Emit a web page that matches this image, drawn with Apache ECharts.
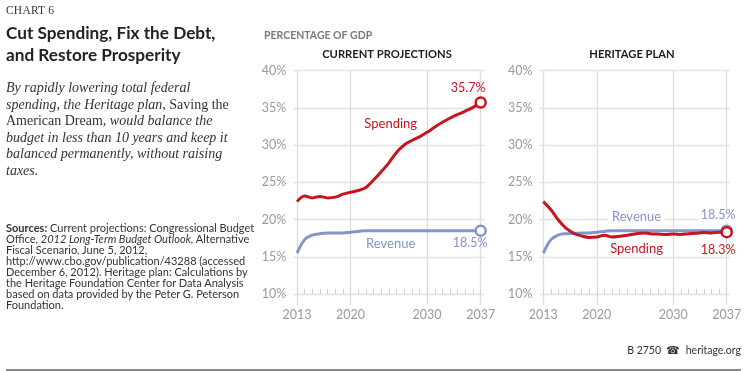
<!DOCTYPE html>
<html><head><meta charset="utf-8">
<script src="https://cdn.jsdelivr.net/npm/echarts@6/dist/echarts.min.js"></script>
<style>
html,body{margin:0;padding:0;background:#fff;}
#wrap{position:relative;width:750px;height:371px;overflow:hidden;background:#fff;}
#chart{position:absolute;left:0;top:0;width:750px;height:371px;}
.t{position:absolute;white-space:nowrap;}
</style></head><body>
<div id="wrap">
<div id="chart"></div>
<div class="t" style="left:6px;top:4px;font-family:'Liberation Serif',serif;font-size:11.5px;color:#333;letter-spacing:0.2px;">CHART 6</div>
<div class="t" style="left:6px;top:22px;font-family:Lato,sans-serif;font-weight:bold;font-size:17.2px;line-height:22px;color:#222;">Cut Spending, Fix the Debt,<br>and Restore Prosperity</div>
<div class="t" style="left:6px;top:80px;font-family:'Liberation Serif',serif;font-size:14px;line-height:16.6px;color:#333;"><i>By rapidly lowering total federal<br>spending, the Heritage plan,</i> Saving the<br>American Dream, <i>would balance the<br>budget in less than 10 years and keep it<br>balanced permanently, without raising<br>taxes.</i></div>
<div class="t" style="left:6px;top:222px;font-family:Lato,sans-serif;font-size:11px;line-height:11px;color:#333;"><b>Sources:</b> Current projections: Congressional Budget<br>Office, <i>2012 Long-Term Budget Outlook,</i> Alternative<br>Fiscal Scenario, June 5, 2012,<br>http://www.cbo.gov/publication/43288 (accessed<br>December 6, 2012). Heritage plan: Calculations by<br>the Heritage Foundation Center for Data Analysis<br>based on data provided by the Peter G. Peterson<br>Foundation.</div>
<div class="t" style="right:9px;top:344px;font-family:Lato,sans-serif;font-size:10.5px;color:#333;">B 2750 &nbsp;☎&nbsp; heritage.org</div>
<div style="position:absolute;left:6px;top:369px;width:735px;height:1.5px;background:#8a8a8a"></div>
</div>
<script>
const years = [2013,2014,2015,2016,2017,2018,2019,2020,2021,2022,2023,2024,2025,2026,2027,2028,2029,2030,2031,2032,2033,2034,2035,2036,2037];
const currentSpending = [22.4,23.15,22.9,23.1,22.9,23.0,23.4,23.65,23.9,24.3,25.3,26.4,27.6,29.0,30.0,30.6,31.1,31.7,32.4,33.05,33.6,34.1,34.55,35.05,35.7];
const currentRevenue = [15.5,17.3,17.9,18.1,18.2,18.2,18.2,18.3,18.4,18.5,18.5,18.5,18.5,18.5,18.5,18.5,18.5,18.5,18.5,18.5,18.5,18.5,18.5,18.5,18.5];
const heritageSpending = [22.4,21.3,19.9,18.8,18.15,17.8,17.6,17.65,17.9,17.65,17.75,17.9,18.05,18.2,18.1,18.05,18.0,18.05,18.0,18.1,18.15,18.25,18.2,18.3,18.3];
const heritageRevenue = [15.5,17.3,17.95,18.1,18.15,18.2,18.2,18.3,18.4,18.5,18.5,18.5,18.5,18.5,18.5,18.5,18.5,18.5,18.5,18.5,18.5,18.5,18.5,18.5,18.5];
const xTickLabels = [2013,2020,2030,2037];
const yMin = 10, yMax = 40, yStep = 5;
const panelTitles = ['CURRENT PROJECTIONS','HERITAGE PLAN'];
const seriesNames = ['Spending','Revenue'];

const RED = '#c8141f', BLUE = '#8396cc';
const FONT = 'Lato';
const last = years.length - 1;

function xMain(gi){
  return {type:'value', gridIndex:gi, min:2012.5, max:2037.5,
    axisLine:{show:false},
    axisTick:{show:true, length:11, customValues:xTickLabels, lineStyle:{color:'#dcdcdc', width:1.3}},
    axisLabel:{show:true, customValues:xTickLabels, formatter:v=>String(v), margin:14, color:'#9a9a9a', fontFamily:FONT, fontSize:12.5},
    splitLine:{show:true, lineStyle:{color:'#dcdcdc', width:1.3}}
  };
}
function xMinor(gi){
  return {type:'value', gridIndex:gi, min:2012.5, max:2037.5, position:'bottom',
    axisLine:{show:false},
    axisTick:{show:true, inside:true, length:5, customValues:years, lineStyle:{color:'#cfcfcf'}},
    axisLabel:{show:false}, splitLine:{show:false}
  };
}
function yAx(gi){
  return {type:'value', gridIndex:gi, min:yMin, max:yMax, interval:yStep,
    axisLine:{show:false}, axisTick:{show:false},
    axisLabel:{formatter:'{value}%', margin:7, color:'#9a9a9a', fontFamily:FONT, fontSize:12.5},
    splitLine:{lineStyle:{color:'#e2e2e2', width:1.3}}
  };
}
function lineSeries(gi, vals, color, endLabelOpt, annot){
  const data = years.map((y,i)=>{
    if(i===last){
      return {value:[y, vals[i]], label:Object.assign({show:true, formatter: vals[i].toFixed(1)+'%', color:color, fontFamily:FONT, fontSize:12.5}, endLabelOpt)};
    }
    return [y, vals[i]];
  });
  return {type:'line', xAxisIndex:gi*2, yAxisIndex:gi, data:data, smooth:0.35,
    symbol:(v,p)=>p.dataIndex===last?'circle':'none', symbolSize:10,
    lineStyle:{color:color, width:3}, itemStyle:{color:'#fff', borderColor:color, borderWidth:2.5},
    label:{show:false}, silent:true, animation:false, z: color===RED?3:2,
    markPoint:{symbol:'circle', symbolSize:0, silent:true, animation:false,
      label:Object.assign({show:true, position:'inside', formatter:'{b}', color:color, fontFamily:FONT, fontSize:13}, annot.style||{}),
      data:[{name:annot.text, coord:annot.coord}]}
  };
}

const option = {
  animation:false,
  title:[
    {text:'PERCENTAGE OF GDP', left:264, top:30, padding:0, textStyle:{fontFamily:FONT, fontWeight:'bold', fontSize:10.5, color:'#7a7a7a'}},
    {text:panelTitles[0], left:387, textAlign:'center', top:49, padding:0, textStyle:{fontFamily:FONT, fontWeight:'bold', fontSize:11.2, color:'#1e1e1e'}},
    {text:panelTitles[1], left:632, textAlign:'center', top:49, padding:0, textStyle:{fontFamily:FONT, fontWeight:'bold', fontSize:11.2, color:'#1e1e1e'}}
  ],
  grid:[
    {left:293.2, right:265.5, top:70.5, bottom:77},
    {left:539.5, right:19.5, top:70.5, bottom:77}
  ],
  xAxis:[xMain(0), xMinor(0), xMain(1), xMinor(1)],
  yAxis:[yAx(0), yAx(1)],
  series:[
    lineSeries(0, currentRevenue, BLUE, {position:'bottom', offset:[-10.5,-5]}, {text:seriesNames[1], coord:[2025.24,16.7]}),
    lineSeries(0, currentSpending, RED, {position:'top', offset:[-12.5,3.5]}, {text:seriesNames[0], coord:[2025.24,32.8]}),
    lineSeries(1, heritageRevenue, BLUE, {position:'top', offset:[-8.5,2.5], backgroundColor:'#fff', padding:[0,2]}, {text:seriesNames[1], coord:[2025.2,20.33], style:{backgroundColor:'#fff', padding:[1,4]}}),
    lineSeries(1, heritageSpending, RED, {position:'bottom', offset:[-8.5,0.5]}, {text:seriesNames[0], coord:[2025.2,16.04]})
  ]
};
const chart = echarts.init(document.getElementById('chart'), null, {renderer:'canvas'});
chart.setOption(option);
</script>
</body></html>
